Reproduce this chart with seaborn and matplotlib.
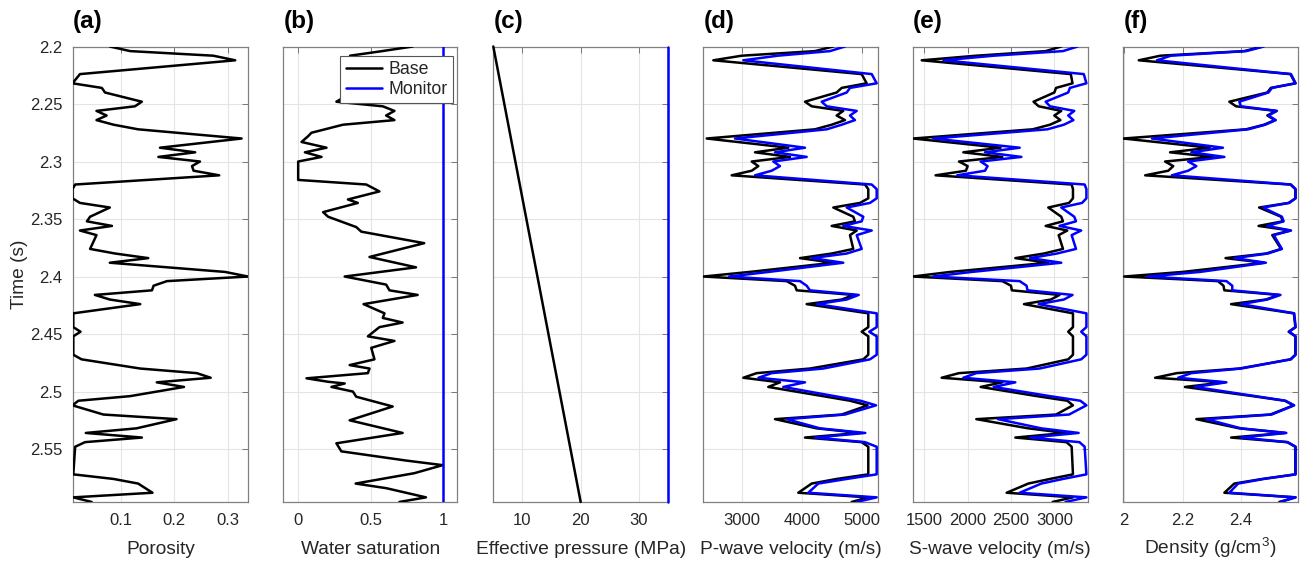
import matplotlib
matplotlib.use("Agg")
import matplotlib.pyplot as plt
import pandas as pd
import seaborn as sns

# ---------------- data ----------------
time_knots = [2.200, 2.204, 2.208, 2.212, 2.224, 2.232, 2.236, 2.240, 2.248, 2.252,
              2.256, 2.260, 2.264, 2.268, 2.272, 2.280, 2.288, 2.292, 2.296, 2.300,
              2.304, 2.308, 2.312, 2.320, 2.324, 2.332, 2.336, 2.340, 2.348, 2.352,
              2.356, 2.360, 2.364, 2.376, 2.380, 2.384, 2.388, 2.396, 2.400, 2.404,
              2.408, 2.412, 2.416, 2.420, 2.424, 2.432, 2.444, 2.448, 2.452, 2.468,
              2.472, 2.480, 2.484, 2.488, 2.492, 2.496, 2.504, 2.508, 2.512, 2.520,
              2.524, 2.532, 2.536, 2.540, 2.544, 2.548, 2.572, 2.576, 2.580, 2.588,
              2.592, 2.596]

porosity_base = [0.079, 0.117, 0.273, 0.314, 0.023, 0.009, 0.064, 0.070, 0.139, 0.126,
                 0.054, 0.073, 0.054, 0.086, 0.132, 0.326, 0.173, 0.239, 0.170, 0.248,
                 0.233, 0.236, 0.284, 0.014, 0.009, 0.009, 0.023, 0.079, 0.042, 0.036,
                 0.083, 0.023, 0.054, 0.042, 0.089, 0.151, 0.079, 0.295, 0.338, 0.186,
                 0.161, 0.158, 0.051, 0.079, 0.136, 0.0105, 0.0105, 0.024, 0.0105, 0.0105,
                 0.026, 0.136, 0.242, 0.268, 0.167, 0.218, 0.117, 0.020, 0.009, 0.067,
                 0.204, 0.129, 0.034, 0.139, 0.0325, 0.014, 0.0105, 0.086, 0.132, 0.159,
                 0.0105, 0.045]

vp_base = [4527, 4222, 3000, 2527, 5000, 5083, 4667, 4583, 4055, 4167,
           4693, 4583, 4722, 4500, 4222, 2417, 3777, 3222, 3805, 3167,
           3277, 3167, 2833, 5055, 5110, 5110, 4972, 4527, 4860, 4888,
           4500, 4917, 4805, 4860, 4500, 3972, 4527, 3133, 2360, 3750,
           3888, 3917, 4870, 4667, 4083, 5110, 5110, 5000, 5110, 5110,
           5027, 4138, 3250, 3027, 3638, 3443, 4355, 4805, 5100, 4667,
           3555, 4250, 4972, 4055, 5000, 5110, 5110, 4583, 4167, 3943,
           5110, 4833]

vp_monitor = [4722, 4472, 3600, 3027, 5167, 5250, 4805, 4750, 4333, 4417,
              4917, 4805, 4888, 4667, 4417, 2888, 4055, 3555, 4083, 3527,
              3638, 3500, 3222, 5167, 5250, 5250, 5138, 4750, 5027, 5000,
              4693, 5167, 4917, 5000, 4750, 4167, 4693, 3450, 2790, 3972,
              4083, 4138, 4950, 4750, 4250, 5250, 5250, 5127, 5250, 5250,
              5138, 4360, 3500, 3280, 4055, 3693, 4550, 4980, 5240, 4722,
              3750, 4305, 5060, 4222, 5055, 5250, 5250, 4750, 4277, 4110,
              5250, 4917]

vs_base = [3080, 2900, 2100, 1470, 3190, 3210, 3020, 3000, 2760, 2820,
           3080, 3000, 3070, 2950, 2750, 1370, 2380, 1950, 2400, 1900,
           2000, 1980, 1630, 3200, 3215, 3215, 3170, 2930, 3080, 3100,
           2900, 3150, 3050, 3100, 2880, 2550, 2930, 1800, 1366, 2400,
           2500, 2510, 3060, 2960, 2650, 3215, 3215, 3160, 3215, 3215,
           3160, 2680, 1900, 1700, 2400, 2150, 2800, 3150, 3215, 3020,
           2100, 2700, 3130, 2550, 3140, 3200, 3215, 2950, 2700, 2450,
           3215, 2980]

vs_monitor = [3270, 3100, 2300, 1720, 3340, 3370, 3180, 3160, 2900, 2950,
              3230, 3160, 3220, 3110, 2920, 1600, 2600, 2200, 2620, 2150,
              2230, 2200, 1880, 3350, 3370, 3370, 3320, 3080, 3230, 3250,
              3060, 3310, 3200, 3250, 3030, 2720, 3080, 2050, 1600, 2600,
              2680, 2690, 3210, 3110, 2820, 3370, 3370, 3310, 3370, 3370,
              3310, 2830, 2100, 1950, 2550, 2300, 2950, 3300, 3370, 3170,
              2350, 2850, 3280, 2720, 3290, 3350, 3370, 3100, 2850, 2600,
              3370, 3130]

rho_base = [2.473, 2.411, 2.124, 2.050, 2.569, 2.586, 2.502, 2.490, 2.360, 2.383,
            2.520, 2.490, 2.516, 2.479, 2.417, 1.997, 2.293, 2.157, 2.304, 2.140,
            2.168, 2.151, 2.072, 2.569, 2.586, 2.586, 2.563, 2.462, 2.537, 2.543,
            2.460, 2.569, 2.507, 2.537, 2.486, 2.347, 2.479, 2.200, 2.000, 2.321,
            2.340, 2.343, 2.530, 2.485, 2.366, 2.581, 2.586, 2.563, 2.586, 2.586,
            2.569, 2.394, 2.180, 2.106, 2.343, 2.208, 2.440, 2.550, 2.580, 2.500,
            2.247, 2.394, 2.552, 2.366, 2.558, 2.586, 2.586, 2.473, 2.377, 2.343,
            2.586, 2.531]

rho_monitor = [2.478, 2.418, 2.160, 2.112, 2.571, 2.587, 2.506, 2.494, 2.394, 2.400,
               2.523, 2.494, 2.519, 2.483, 2.425, 2.095, 2.338, 2.230, 2.343, 2.219,
               2.247, 2.219, 2.163, 2.571, 2.587, 2.587, 2.565, 2.475, 2.540, 2.546,
               2.490, 2.571, 2.512, 2.540, 2.492, 2.377, 2.485, 2.260, 2.079, 2.350,
               2.370, 2.370, 2.535, 2.490, 2.400, 2.582, 2.587, 2.565, 2.587, 2.587,
               2.571, 2.400, 2.230, 2.185, 2.350, 2.242, 2.450, 2.552, 2.582, 2.505,
               2.281, 2.400, 2.555, 2.400, 2.560, 2.587, 2.587, 2.478, 2.390, 2.360,
               2.587, 2.535]

sw_time = [2.200, 2.204, 2.208, 2.212, 2.216, 2.220, 2.224, 2.228, 2.232, 2.236,
           2.240, 2.244, 2.248, 2.252, 2.256, 2.260, 2.264, 2.268, 2.275, 2.278,
           2.283, 2.288, 2.292, 2.296, 2.300, 2.316, 2.320, 2.326, 2.333, 2.336,
           2.344, 2.348, 2.357, 2.361, 2.371, 2.383, 2.392, 2.400, 2.407, 2.412,
           2.416, 2.424, 2.432, 2.436, 2.440, 2.444, 2.452, 2.456, 2.462, 2.472,
           2.477, 2.480, 2.484, 2.4885, 2.4915, 2.493, 2.496, 2.500, 2.5045, 2.513,
           2.525, 2.536, 2.545, 2.552, 2.560, 2.564, 2.571, 2.580, 2.584, 2.592,
           2.596]
sw_base = [0.789, 0.58, 0.36, 0.50, 0.45, 0.60, 0.50, 0.62, 0.52, 0.48,
           0.42, 0.32, 0.266, 0.584, 0.664, 0.607, 0.664, 0.311, 0.095, 0.072,
           0.027, 0.198, 0.050, 0.164, 0.004, 0.004, 0.471, 0.561, 0.345, 0.413,
           0.175, 0.209, 0.402, 0.437, 0.868, 0.493, 0.812, 0.323, 0.607, 0.63,
           0.823, 0.452, 0.596, 0.584, 0.720, 0.561, 0.482, 0.664, 0.505, 0.527,
           0.357, 0.493, 0.482, 0.061, 0.209, 0.323, 0.232, 0.379, 0.402, 0.652,
           0.357, 0.720, 0.266, 0.300, 0.744, 0.995, 0.800, 0.398, 0.607, 0.880,
           0.698]
sw_monitor_time = [2.200, 2.596]
sw_monitor = [1.0, 1.0]

pressure_time = [2.200, 2.596]
pressure_base = [5.0, 20.0]
pressure_monitor = [35.0, 35.0]

panel_letters = ["(a)", "(b)", "(c)", "(d)", "(e)", "(f)"]
x_labels = ["Porosity", "Water saturation", "Effective pressure (MPa)",
            "P-wave velocity (m/s)", "S-wave velocity (m/s)",
            r"Density (g/cm$^{\mathrm{3}}$)"]
x_ticks = [[0.1, 0.2, 0.3], [0, 0.5, 1], [10, 20, 30],
           [3000, 4000, 5000], [1500, 2000, 2500, 3000], [2, 2.2, 2.4]]
x_tick_labels = [["0.1", "0.2", "0.3"], ["0", "0.5", "1"], ["10", "20", "30"],
                 ["3000", "4000", "5000"], ["1500", "2000", "2500", "3000"],
                 ["2", "2.2", "2.4"]]
x_limits = [(0.0094, 0.338), (-0.098, 1.095), (5, 35),
            (2360, 5277), (1366, 3385), (1.997, 2.594)]
y_ticks = [2.2, 2.25, 2.3, 2.35, 2.4, 2.45, 2.5, 2.55]
y_tick_labels = ["2.2", "2.25", "2.3", "2.35", "2.4", "2.45", "2.5", "2.55"]
case_names = ["Base", "Monitor"]

# ---------------- styling ----------------
sns.set_theme(style="white")
plt.rcParams.update({
    "font.family": ["Liberation Sans", "DejaVu Sans"],
    "mathtext.fontset": "custom",
    "mathtext.rm": "Liberation Sans",
    "mathtext.it": "Liberation Sans:italic",
    "mathtext.bf": "Liberation Sans:bold",
})

W, H = 1301, 561
fig = plt.figure(figsize=(W / 100, H / 100), dpi=100)
top_px, bot_px = 46.5, 502.3
lefts = [72.7, 283.3, 493.3, 703.3, 912.7, 1123.3]
widths = [175.3, 174.0, 174.7, 175.0, 175.0, 174.4]
axes = [fig.add_axes([l / W, 1 - bot_px / H, w / W, (bot_px - top_px) / H])
        for l, w in zip(lefts, widths)]


def make_df(tb, vb, tm=None, vm=None):
    frames = [pd.DataFrame({"time": tb, "value": vb, "case": case_names[0]})]
    if vm is not None:
        frames.append(pd.DataFrame({"time": tm, "value": vm, "case": case_names[1]}))
    return pd.concat(frames, ignore_index=True)


frames = [
    make_df(time_knots, porosity_base),
    make_df(sw_time, sw_base, sw_monitor_time, sw_monitor),
    make_df(pressure_time, pressure_base, pressure_time, pressure_monitor),
    make_df(time_knots, vp_base, time_knots, vp_monitor),
    make_df(time_knots, vs_base, time_knots, vs_monitor),
    make_df(time_knots, rho_base, time_knots, rho_monitor),
]
palette = {"Base": "black", "Monitor": (0, 0, 1)}
text_col = "#262626"
label_y = -0.113  # baseline of the x labels, in axes fraction

for i, (ax, df) in enumerate(zip(axes, frames)):
    sns.lineplot(data=df, x="value", y="time", hue="case", palette=palette,
                 sort=False, estimator=None, linewidth=1.8, legend=(i == 1),
                 ax=ax)
    ax.set_xlim(*x_limits[i])
    ax.set_ylim(2.5963, 2.2)
    ax.set_xticks(x_ticks[i])
    ax.set_xticklabels(x_tick_labels[i])
    ax.set_yticks(y_ticks)
    if i == 0:
        ax.set_yticklabels(y_tick_labels)
        ax.set_ylabel("Time (s)", fontsize=13.8, color=text_col, labelpad=1.5)
    else:
        ax.set_yticklabels([])
        ax.set_ylabel("")
    ax.set_xlabel(x_labels[i], fontsize=13.8, color=text_col)
    ax.xaxis.label.set_va("baseline")
    ax.xaxis.set_label_coords(0.5, label_y)
    ax.grid(True, color="#e4e4e4", linewidth=0.8)
    ax.set_axisbelow(True)
    ax.tick_params(direction="in", length=4, width=0.7, colors="#777777",
                   labelcolor=text_col, labelsize=12, top=True, right=True,
                   pad=7.5)
    for sp in ax.spines.values():
        sp.set_visible(True)
        sp.set_color("#808080")
        sp.set_linewidth(0.9)
    ax.set_title(panel_letters[i], loc="left", fontsize=17.5, fontweight="bold",
                 pad=13, color="black")
    # lines sit on top of the axes frame (like the reference's edge lines)
    for ln in ax.get_lines():
        ln.set_zorder(3)
        if i == 2:
            ln.set_clip_on(False)

sns.move_legend(axes[1], "upper right", bbox_to_anchor=(0.975, 0.979),
                borderaxespad=0, title=None, frameon=True, fancybox=False,
                edgecolor="#555555", framealpha=1, fontsize=12.8,
                handlelength=2.05, handletextpad=0.35, labelspacing=0.15,
                borderpad=0.3)
leg = axes[1].get_legend()
leg.set_zorder(5)
leg.get_frame().set_linewidth(0.8)
for h in leg.get_lines():
    h.set_linewidth(1.8)

fig.savefig("out.png", dpi=100)
